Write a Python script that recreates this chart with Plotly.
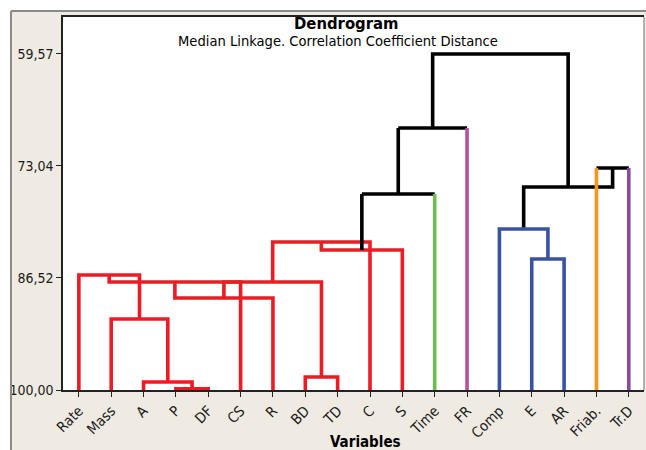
import plotly.graph_objects as go

# ---------------- data ----------------
leaves = ['Rate', 'Mass', 'A', 'P', 'DF', 'CS', 'R', 'BD', 'TD', 'C', 'S',
          'Time', 'FR', 'Comp', 'E', 'AR', 'Friab.', 'Tr.D']
leaf_group = ['red'] * 11 + ['green', 'magenta', 'blue', 'blue', 'blue', 'orange', 'purple']

# merges: new node ids start at len(leaves)
merge_left = [3, 2, 7, 1, 0, 22, 23, 24, 25, 26, 27, 28, 14, 13, 16, 31, 29]
merge_right = [4, 18, 8, 19, 21, 5, 6, 20, 9, 10, 11, 12, 15, 30, 17, 32, 33]
merge_sim = [99.85, 99.04, 98.44, 91.46, 86.16, 87.01, 88.93, 87.0, 82.19, 83.15,
             76.42, 68.47, 84.24, 80.63, 73.29, 75.57, 59.57]

y_tickvals = [59.57, 73.04, 86.52, 100.00]
y_ticktext = ['59,57', '73,04', '86,52', '100,00']

palette = {'red': '#ed1c24', 'green': '#6cbf4f', 'magenta': '#b5509f',
           'blue': '#3a52a3', 'orange': '#f7941d', 'purple': '#8a4b9e', 'black': '#000000'}

# ---------------- build tree geometry ----------------
n = len(leaves)
xpos = {i: float(i) for i in range(n)}
ypos = {i: 100.0 for i in range(n)}
grp = {i: leaf_group[i] for i in range(n)}
segs = {}  # color -> (xs, ys)


def add(color, xs, ys):
    c = palette[color]
    if c not in segs:
        segs[c] = ([], [])
    segs[c][0].extend(xs + [None])
    segs[c][1].extend(ys + [None])


for k, (a, b, s) in enumerate(zip(merge_left, merge_right, merge_sim)):
    node = n + k
    g = grp[a] if grp[a] == grp[b] else 'black'
    grp[node] = g
    xpos[node] = (xpos[a] + xpos[b]) / 2
    ypos[node] = s
    ca = grp[a] if a < n else g
    cb = grp[b] if b < n else g
    if ca == g and cb == g:
        add(g, [xpos[a], xpos[a], xpos[b], xpos[b]], [ypos[a], s, s, ypos[b]])
    else:
        add(ca, [xpos[a], xpos[a]], [ypos[a], s])
        add(cb, [xpos[b], xpos[b]], [ypos[b], s])
        add(g, [xpos[a], xpos[b]], [s, s])

fig = go.Figure()
for c, (xs, ys) in segs.items():
    fig.add_trace(go.Scatter(x=xs, y=ys, mode='lines',
                             line=dict(color=c, width=3.6), hoverinfo='skip',
                             showlegend=False))

FONT = 'DejaVu Sans Condensed, DejaVu Sans, sans-serif'
beige = '#f0ebe2'

L, R, T, B = 63, 2, 17, 60
W, H = 646, 450
pw, ph = W - L - R, H - T - B


def px(xp):
    return (xp - L) / pw


def py(yp):
    return (H - B - yp) / ph


fig.update_layout(
    width=W, height=H,
    margin=dict(l=L, r=R, t=T, b=B, pad=0, autoexpand=False),
    paper_bgcolor=beige, plot_bgcolor='white',
    showlegend=False,
    font=dict(family=FONT, size=14, color='#1a1a1a'),
    xaxis=dict(range=[-0.49, 17.47], tickvals=list(range(n)), ticktext=leaves,
               tickangle=-45, ticks='outside', ticklen=5, tickcolor='#222',
               showgrid=False, zeroline=False, showline=True, linecolor='#222',
               linewidth=1.5, mirror=True, tickfont=dict(size=14.5), automargin=False),
    yaxis=dict(range=[100, 55.12], tickvals=y_tickvals, ticktext=y_ticktext,
               ticks='outside', ticklen=5, tickcolor='#222',
               showgrid=False, zeroline=False, showline=True, linecolor='#222',
               linewidth=1.5, tickfont=dict(size=14), automargin=False),
    shapes=[
        dict(type='rect', xref='paper', yref='paper', x0=px(-5), x1=px(11), y0=py(460), y1=py(-5),
             fillcolor='white', line=dict(width=0), layer='below'),
        dict(type='rect', xref='paper', yref='paper', x0=px(-5), x1=px(660), y0=py(11), y1=py(-5),
             fillcolor='white', line=dict(width=0), layer='below'),
        dict(type='line', xref='paper', yref='paper', x0=px(11), x1=px(11), y0=py(11), y1=py(460),
             line=dict(color='#8a8a8a', width=2)),
        dict(type='line', xref='paper', yref='paper', x0=px(11), x1=px(660), y0=py(11), y1=py(11),
             line=dict(color='#8a8a8a', width=2)),
        dict(type='line', xref='paper', yref='paper', x0=1, x1=1, y0=0, y1=1,
             line=dict(color='#9a9a9a', width=1.5)),
    ],
    annotations=[
        dict(text='<b>Dendrogram</b>', xref='paper', yref='paper', x=px(346.5), y=py(23),
             xanchor='center', yanchor='middle', showarrow=False,
             font=dict(family=FONT, size=16.5, color='#000')),
        dict(text='Median Linkage. Correlation Coefficient Distance', xref='paper', yref='paper',
             x=px(338), y=py(40.5), xanchor='center', yanchor='middle', showarrow=False,
             font=dict(family=FONT, size=14.6, color='#000')),
        dict(text='<b>Variables</b>', xref='paper', yref='paper', x=px(366), y=py(442),
             xanchor='center', yanchor='middle', showarrow=False,
             font=dict(family=FONT, size=15, color='#000')),
    ],
)

fig.write_html('out.html', config={'displayModeBar': False},
               post_script="document.body.style.margin='0px';")
